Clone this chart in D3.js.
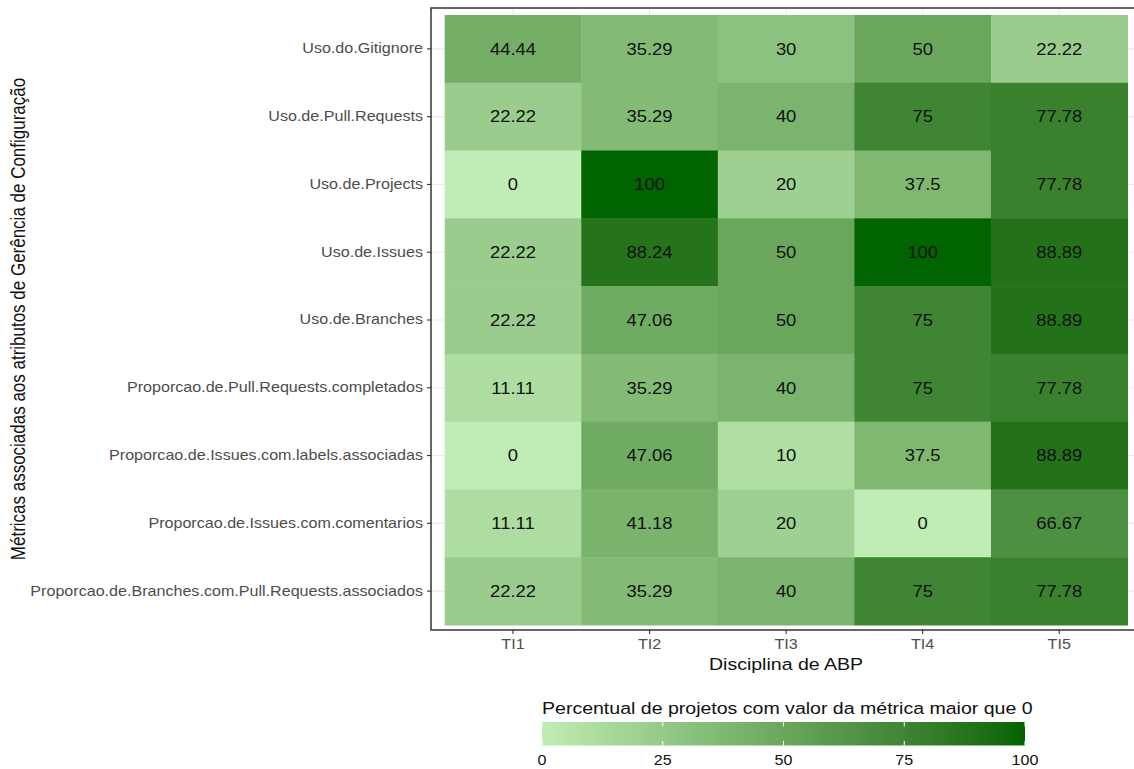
<!DOCTYPE html>
<html>
<head>
  <meta charset="utf-8">
  <title>Heatmap</title>
  <style>
    body { margin: 0; background: #fff; }
    svg { font-family: "Liberation Sans", Arial, sans-serif; }
  </style>
</head>
<body>
  <script src="https://d3js.org/d3.v7.min.js"></script>
  <script>
    var metrics = [
      'Uso.do.Gitignore',
      'Uso.de.Pull.Requests',
      'Uso.de.Projects',
      'Uso.de.Issues',
      'Uso.de.Branches',
      'Proporcao.de.Pull.Requests.completados',
      'Proporcao.de.Issues.com.labels.associadas',
      'Proporcao.de.Issues.com.comentarios',
      'Proporcao.de.Branches.com.Pull.Requests.associados'
    ];
    var disciplines = ['TI1', 'TI2', 'TI3', 'TI4', 'TI5'];

    // one column per discipline, in the order of metrics
    var ti1 = [44.44, 22.22, 0, 22.22, 22.22, 11.11, 0, 11.11, 22.22];
    var ti2 = [35.29, 35.29, 100, 88.24, 47.06, 35.29, 47.06, 41.18, 35.29];
    var ti3 = [30, 40, 20, 50, 50, 40, 10, 20, 40];
    var ti4 = [50, 75, 37.5, 100, 75, 75, 37.5, 0, 75];
    var ti5 = [22.22, 77.78, 77.78, 88.89, 88.89, 77.78, 88.89, 66.67, 77.78];
    var columns = [ti1, ti2, ti3, ti4, ti5];

    var legendTicks = [0, 25, 50, 75, 100];

    var cells = [];
    columns.forEach(function(col, i) {
      col.forEach(function(v, j) {
        cells.push({ x: disciplines[i], y: metrics[j], v: v });
      });
    });

    var W = 1134, H = 769;
    var SX = 1.15; // glyphs in the picture are a bit wider than the font
    var svg = d3.select('body').append('svg').attr('width', W).attr('height', H);

    function at(px, py) {
      return 'translate(' + px + ',' + py + ') scale(' + SX + ',1)';
    }

    // panel
    var panel = { left: 431, top: 8, right: 1141, bottom: 630 };
    var x = d3.scaleBand().domain(disciplines).range([444.7, 1127.5]);
    var y = d3.scaleBand().domain(metrics).range([15, 625]);

    var color = d3.scaleLinear().domain([0, 100])
      .range(['#c0edb5', '#006400']).interpolate(d3.interpolateLab);

    svg.append('rect')
      .attr('x', panel.left).attr('y', panel.top)
      .attr('width', panel.right - panel.left).attr('height', panel.bottom - panel.top)
      .attr('fill', '#fff');

    // grid lines
    svg.selectAll('.vgrid').data(disciplines).enter().append('line')
      .attr('x1', function(d) { return x(d) + x.bandwidth() / 2; })
      .attr('x2', function(d) { return x(d) + x.bandwidth() / 2; })
      .attr('y1', panel.top).attr('y2', panel.bottom)
      .attr('stroke', '#ebebeb').attr('stroke-width', 1.1);
    svg.selectAll('.hgrid').data(metrics).enter().append('line')
      .attr('y1', function(d) { return y(d) + y.bandwidth() / 2; })
      .attr('y2', function(d) { return y(d) + y.bandwidth() / 2; })
      .attr('x1', panel.left).attr('x2', panel.right)
      .attr('stroke', '#ebebeb').attr('stroke-width', 1.1);

    // tiles
    svg.selectAll('rect.tile').data(cells).enter().append('rect')
      .attr('class', 'tile')
      .attr('x', function(d) { return x(d.x); })
      .attr('y', function(d) { return y(d.y); })
      .attr('width', x.bandwidth() + 0.5)
      .attr('height', y.bandwidth() + 0.5)
      .attr('fill', function(d) { return color(d.v); });

    svg.selectAll('text.val').data(cells).enter().append('text')
      .attr('class', 'val')
      .attr('transform', function(d) { return at(x(d.x) + x.bandwidth() / 2, y(d.y) + y.bandwidth() / 2); })
      .attr('dy', '0.36em')
      .attr('text-anchor', 'middle')
      .attr('font-size', '16px')
      .attr('fill', '#111')
      .text(function(d) { return d.v; });

    // border
    svg.append('rect')
      .attr('x', panel.left).attr('y', panel.top)
      .attr('width', panel.right - panel.left).attr('height', panel.bottom - panel.top)
      .attr('fill', 'none').attr('stroke', '#333').attr('stroke-width', 1.5);

    // axes
    var xAxis = d3.axisBottom(x).tickSize(4).tickPadding(5);
    var gx = svg.append('g').attr('transform', 'translate(0,' + panel.bottom + ')').call(xAxis);
    gx.select('.domain').remove();
    gx.selectAll('line').attr('stroke', '#333').attr('stroke-width', 1.1);
    gx.selectAll('text').attr('font-size', '14px').attr('fill', '#4d4d4d')
      .attr('font-family', '"Liberation Sans", Arial, sans-serif')
      .attr('transform', 'scale(' + SX + ',1)');

    var yAxis = d3.axisLeft(y).tickSize(4).tickPadding(3);
    var gy = svg.append('g').attr('transform', 'translate(' + panel.left + ',0)').call(yAxis);
    gy.select('.domain').remove();
    gy.selectAll('line').attr('stroke', '#333').attr('stroke-width', 1.1);
    gy.selectAll('text').attr('font-size', '14px').attr('fill', '#4d4d4d')
      .attr('font-family', '"Liberation Sans", Arial, sans-serif')
      .attr('x', -8 / SX)
      .attr('transform', 'scale(' + SX + ',1)');

    svg.append('text')
      .attr('transform', at((panel.left + panel.right) / 2, 670))
      .attr('text-anchor', 'middle').attr('font-size', '17px').attr('fill', '#111')
      .text('Disciplina de ABP');

    svg.append('text')
      .attr('transform', 'translate(25,' + (panel.top + panel.bottom) / 2 + ') rotate(-90) scale(1,' + SX + ')')
      .attr('text-anchor', 'middle').attr('font-size', '17px').attr('fill', '#111')
      .text('Métricas associadas aos atributos de Gerência de Configuração');

    // legend
    var lx = d3.scaleLinear().domain([0, 100]).range([542, 1025]);
    var defs = svg.append('defs');
    var grad = defs.append('linearGradient').attr('id', 'lg');
    d3.range(0, 101, 5).forEach(function(v) {
      grad.append('stop').attr('offset', v + '%').attr('stop-color', color(v));
    });
    svg.append('text')
      .attr('transform', at(542, 714))
      .attr('font-size', '17px').attr('fill', '#111')
      .text('Percentual de projetos com valor da métrica maior que 0');
    var ly0 = 722, lh = 23.5;
    svg.append('rect')
      .attr('x', lx(0)).attr('y', ly0).attr('width', lx(100) - lx(0)).attr('height', lh)
      .attr('fill', 'url(#lg)');
    legendTicks.forEach(function(t) {
      svg.append('line').attr('x1', lx(t)).attr('x2', lx(t))
        .attr('y1', ly0).attr('y2', ly0 + 4.5).attr('stroke', '#fff').attr('stroke-width', 1);
      svg.append('line').attr('x1', lx(t)).attr('x2', lx(t))
        .attr('y1', ly0 + lh - 4.5).attr('y2', ly0 + lh).attr('stroke', '#fff').attr('stroke-width', 1);
    });
    svg.selectAll('text.lt').data(legendTicks).enter().append('text')
      .attr('class', 'lt')
      .attr('transform', function(d) { return at(lx(d), 765); })
      .attr('text-anchor', 'middle').attr('font-size', '14px').attr('fill', '#111')
      .text(function(d) { return d; });
  </script>
</body>
</html>
